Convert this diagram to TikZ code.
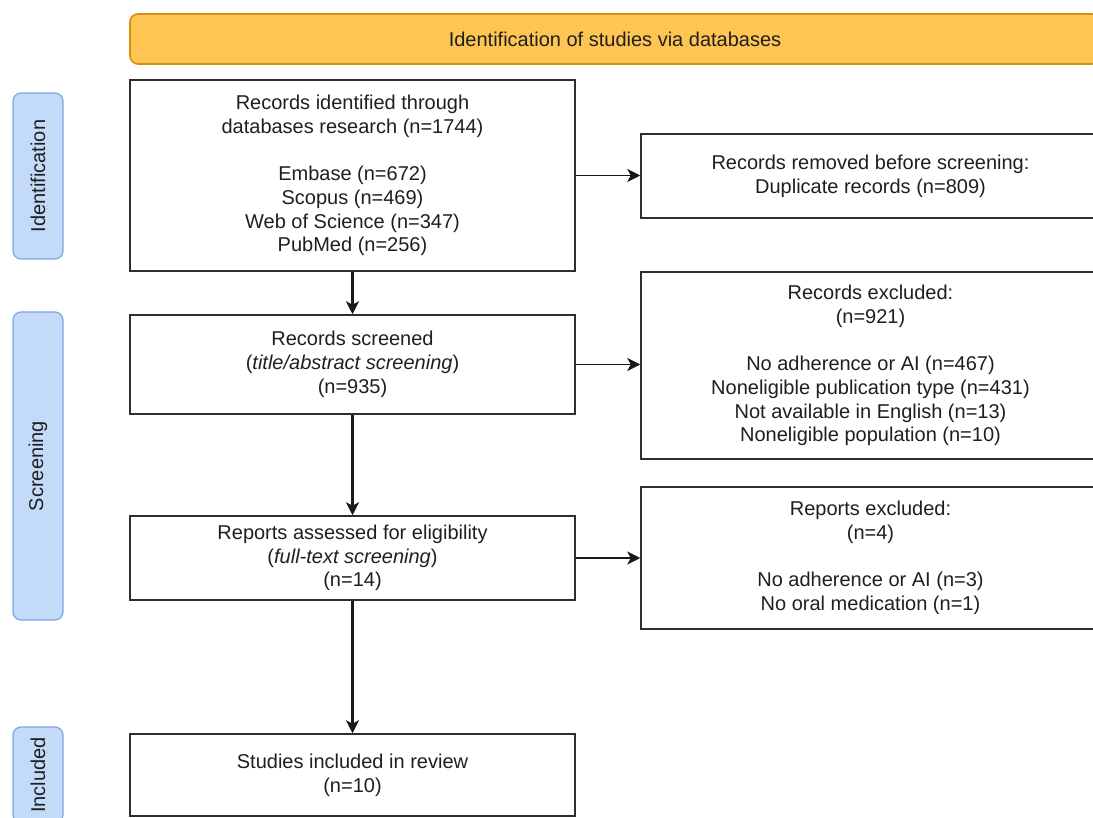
\documentclass[tikz,border=0pt]{standalone}
\usepackage{fontspec}
\setmainfont{Liberation Sans}
\usetikzlibrary{arrows.meta}
\definecolor{hdrfill}{HTML}{FFC552}
\definecolor{hdrline}{HTML}{D4900E}
\definecolor{labfill}{HTML}{C3DAF8}
\definecolor{labline}{HTML}{7EA6E0}
\definecolor{boxline}{HTML}{2E2E2E}
\definecolor{txt}{HTML}{1F1F1F}
\tikzset{
  box/.style={draw=boxline, line width=1.5pt, fill=white, align=center, inner sep=0pt, text=txt,
    font=\fontsize{20}{23.7}\selectfont},
  side/.style={draw=labline, line width=1.2pt, fill=labfill, rounded corners=8pt, inner sep=0pt,
    minimum width=50pt, text=txt, font=\fontsize{20}{23.7}\selectfont},
  arr/.style={draw=black!90, line width=2.3pt, -{Stealth[length=13pt,width=13pt,inset=3.5pt]}},
}
\begin{document}
\begin{tikzpicture}[x=1pt,y=-1pt]
\useasboundingbox (0,0) rectangle (1093,818);
\clip (0,0) rectangle (1093,818);
% header
\node[draw=hdrline, line width=1.6pt, fill=hdrfill, rounded corners=8pt, minimum width=970pt, minimum height=50pt,
  inner sep=0pt, text=txt, font=\fontsize{20}{23.7}\selectfont] (head) at (615,39) {Identification of studies via databases};
% side labels
\node[side, minimum height=166pt] (idlab) at (38,176) {\rotatebox{90}{Identification}};
\node[side, minimum height=308pt] (scrlab) at (38,466) {\rotatebox{90}{Screening}};
\node[side, minimum height=96pt] (inclab) at (38,775) {\rotatebox{90}{Included}};
% main column
\node[box, minimum width=445pt, minimum height=191pt] (b1) at (352.5,175.5)
  {Records identified through\\databases research (n=1744)\\[23.7pt]Embase (n=672)\\Scopus (n=469)\\Web of Science (n=347)\\PubMed (n=256)};
\node[box, minimum width=445pt, minimum height=99pt] (b2) at (352.5,364.5)
  {Records screened\\(\textit{title/abstract screening})\\(n=935)};
\node[box, minimum width=445pt, minimum height=84pt] (b3) at (352.5,558)
  {Reports assessed for eligibility\\(\textit{full-text screening})\\(n=14)};
\node[box, minimum width=445pt, minimum height=82pt] (b4) at (352.5,775)
  {Studies included in review\\(n=10)};
% right column
\node[box, minimum width=459pt, minimum height=84pt] (rem) at (870.5,176)
  {Records removed before screening:\\Duplicate records (n=809)};
\node[box, minimum width=459pt, minimum height=187pt] (exc) at (870.5,365.5)
  {Records excluded:\\(n=921)\\[23.7pt]No adherence or AI (n=467)\\Noneligible publication type (n=431)\\Not available in English (n=13)\\Noneligible population (n=10)};
\node[box, minimum width=459pt, minimum height=142pt] (rex) at (870.5,558)
  {Reports excluded:\\(n=4)\\[23.7pt]No adherence or AI (n=3)\\No oral medication (n=1)};
% connectors
\draw[arr] (b1) -- (b2);
\draw[arr] (b2) -- (b3);
\draw[arr] (b3) -- (b4);
\draw[arr, line width=1.8pt] (b1.east) -- (b1.east -| rem.west);
\draw[arr, line width=1.8pt] (b2.east) -- (b2.east -| exc.west);
\draw[arr, line width=1.8pt] (b3.east) -- (b3.east -| rex.west);
\end{tikzpicture}
\end{document}
